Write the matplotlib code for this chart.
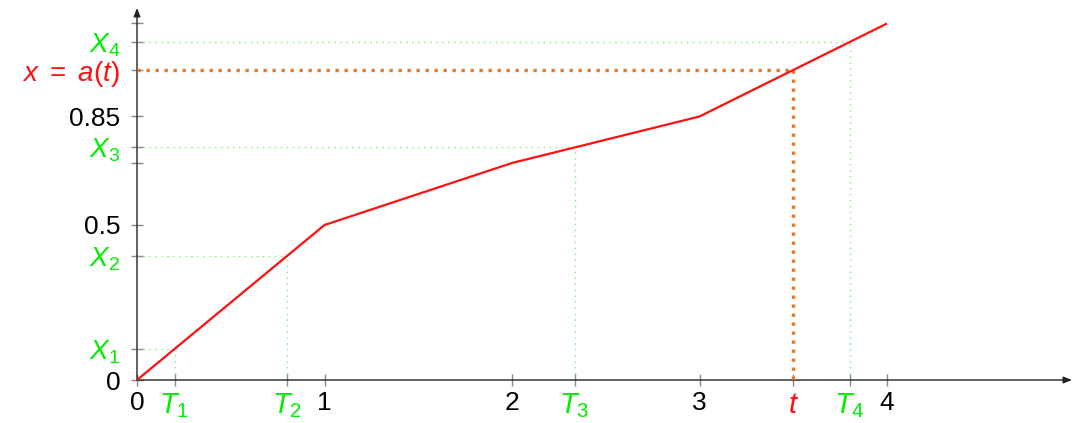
import matplotlib
matplotlib.use("Agg")
import matplotlib.pyplot as plt

# ---- data ----
t_knots = [0, 1, 2, 3, 4]
a_vals = [0, 0.5, 0.7, 0.85, 1.15]

T_points = [0.2, 0.8, 7/3, 3.8]
X_points = [0.1, 0.4, 0.75, 1.09]
T_labels = [r"$T_1$", r"$T_2$", r"$T_3$", r"$T_4$"]
X_labels = [r"$X_1$", r"$X_2$", r"$X_3$", r"$X_4$"]

t_val = 3.5
a_t = 1.0

x_num_ticks = [0, 1, 2, 3, 4]
x_num_labels = ["0", "1", "2", "3", "4"]
y_num_ticks = [0, 0.5, 0.7, 0.85, 1.15]
y_num_labels = ["0", "0.5", "", "0.85", ""]

# ---- styling ----
plt.rcParams['font.family'] = ['Liberation Sans', 'DejaVu Sans']
plt.rcParams['mathtext.fontset'] = 'custom'
plt.rcParams['mathtext.rm'] = 'Liberation Sans'
plt.rcParams['mathtext.it'] = 'Liberation Sans:italic'
plt.rcParams['mathtext.bf'] = 'Liberation Sans:bold'

GREEN = '#00ee00'
LGREEN = '#77ee77'
RED = '#ff1010'
ORANGE = '#e07a2a'
NUM_SIZE = 19
MATH_SIZE = 21
AT_SIZE = 20

W, H = 1074, 423
fig = plt.figure(figsize=(W/100, H/100), dpi=100)
x0px, y0px = 137, 380
xscale, yscale = 187.5, 310.0
xmax = (1072 - x0px) / xscale
ymax = (y0px - 8) / yscale
ax = fig.add_axes([x0px/W, (H - y0px)/H, (1072 - x0px)/W, (y0px - 8)/H])
ax.set_xlim(0, xmax)
ax.set_ylim(0, ymax)
for s in ax.spines.values():
    s.set_visible(False)
ax.patch.set_visible(False)

# axes with arrows
for end in [(1, 0), (0, 1)]:
    ax.annotate("", xy=end, xytext=(0, 0), xycoords='axes fraction',
                arrowprops=dict(arrowstyle='-|>,head_length=0.5,head_width=0.2', color='#222222', lw=1.0,
                                shrinkA=0, shrinkB=0), clip_on=False)

# green dotted guides
for T, X in zip(T_points, X_points):
    ax.plot([0, T], [X, X], color=LGREEN, lw=1.0, dashes=(1, 3.3), dash_capstyle='butt', zorder=2)
    ax.plot([T, T], [0, X], color=LGREEN, lw=1.0, dashes=(1, 3.3), dash_capstyle='butt', zorder=2)

# orange dotted guides
ax.plot([0, t_val], [a_t, a_t], color=ORANGE, lw=2.4, dashes=(1, 1.7), dash_capstyle='butt', zorder=3)
ax.plot([t_val, t_val], [a_t, 0], color=ORANGE, lw=2.4, dashes=(1, 1.7), dash_capstyle='butt', zorder=3)

# main curve
ax.plot(t_knots, a_vals, color=RED, lw=1.6, zorder=4, solid_capstyle='butt')

# ticks
xt = x_num_ticks + T_points + [t_val]
xl = x_num_labels + T_labels + [r"$t$"]
xc = ['black'] * len(x_num_ticks) + [GREEN] * len(T_points) + [RED]
ax.set_xticks(xt)
ax.set_xticklabels(xl)
for lab, c in zip(ax.get_xticklabels(), xc):
    lab.set_color(c)
    lab.set_fontsize(MATH_SIZE if c != 'black' else NUM_SIZE)

yt = y_num_ticks + X_points + [a_t]
yl = y_num_labels + X_labels + [r"$x\ =\ a(t)$"]
yc = ['black'] * len(y_num_ticks) + [GREEN] * len(X_points) + [RED]
ax.set_yticks(yt)
ax.set_yticklabels(yl)
for lab, c in zip(ax.get_yticklabels(), yc):
    lab.set_color(c)
    if c == RED:
        lab.set_fontsize(AT_SIZE)
    elif c == GREEN:
        lab.set_fontsize(MATH_SIZE - 1)
    else:
        lab.set_fontsize(NUM_SIZE)

ax.tick_params(axis='both', direction='inout', length=8, width=1.0, color='#888888')
ax.tick_params(axis='x', pad=4)
ax.tick_params(axis='y', pad=8)

fig.savefig("out.png", dpi=100)
